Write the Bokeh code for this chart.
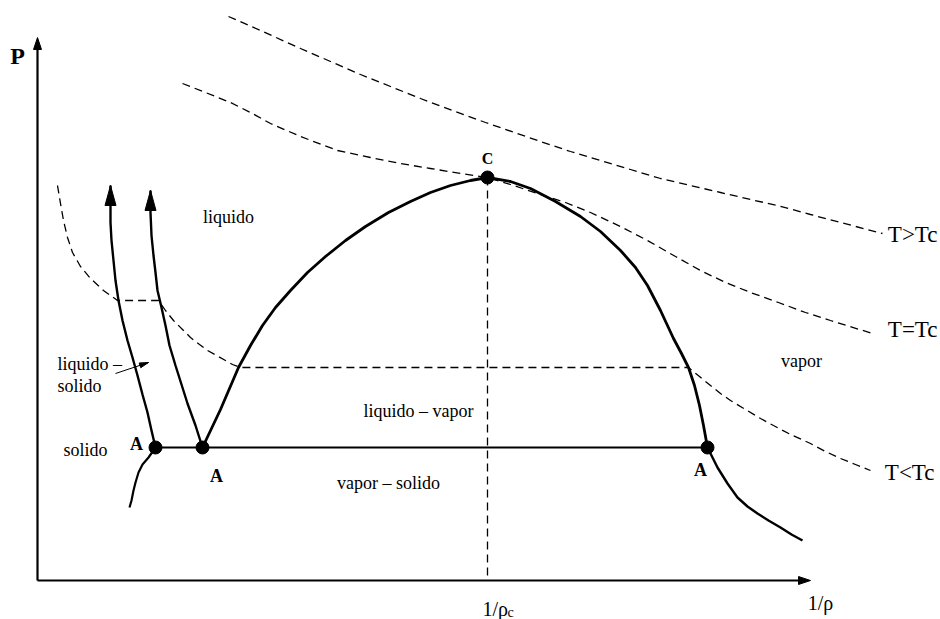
import numpy as np
from bokeh.plotting import figure
from bokeh.models import Range1d
from bokeh.core.properties import value
from bokeh.embed import file_html
from bokeh.resources import INLINE

# Schematic P - 1/rho phase diagram (arbitrary units: v = 1/rho, P = pressure)

# liquid-vapour coexistence dome, from the left triple point A over C to the right triple point A
dome_v = [165, 174, 183, 192, 201, 213, 225, 238, 253, 270, 288, 308, 328, 351, 373, 393, 413, 433, 450,
          473, 493, 518, 543, 563, 583, 598, 610, 623, 636, 644, 651, 657, 662, 666, 670]
dome_p = [133, 152, 171, 192, 213, 235, 255, 273, 290, 308, 324, 340, 354, 368, 379, 388, 395, 400, 403,
          399, 392, 379, 364, 349, 330, 313, 295, 270, 242, 227, 213, 195, 175, 155, 133]

# vapour branch below the triple line
vap_v = [670, 680, 690, 700, 710, 720, 731, 743, 754, 765]
vap_p = [133, 113, 97, 83, 74, 67, 60, 53, 46, 40]

# sublimation curve
sub_v = [118, 111, 105, 101, 98, 96, 94, 92]
sub_p = [133, 123, 116, 108, 98, 90, 80, 73]

# melting curves (solid side and liquid side)
melt1_v = [118, 114, 110, 105, 100, 95, 90, 85, 81, 78, 76, 74, 73, 73, 73]
melt1_p = [133, 150, 168, 186, 205, 223, 240, 260, 280, 300, 320, 340, 358, 375, 395]
melt2_v = [165, 158, 150, 144, 138, 132, 128, 124, 120, 118, 116, 114, 113, 113]
melt2_p = [133, 155, 177, 196, 215, 235, 255, 273, 290, 308, 325, 345, 368, 390]

# isotherms
thi_v = [191, 223, 263, 293, 323, 353, 383, 415, 448, 500, 533, 563, 593, 623, 653, 683, 713, 740, 773, 803, 845]
thi_p = [564, 550, 532, 519, 506, 494, 482, 470, 458, 440, 429, 420, 411, 402, 395, 388, 381, 375, 366, 358, 347]

tc_v = [145, 168, 193, 213, 233, 263, 300, 333, 363, 393, 423, 450, 473, 500, 528, 553, 583, 610, 638, 663,
        688, 713, 741, 768, 793, 835]
tc_p = [497, 488, 478, 468, 457, 444, 430, 423, 417, 412, 407, 403, 396, 387, 378, 368, 354, 340, 324, 310,
        298, 288, 278, 268, 260, 247]

tlo_v = [20, 23, 26, 30, 35, 43, 53, 66, 80, 121, 128, 136, 145, 153, 162, 170, 179, 188, 195, 203,
         651, 662, 673, 683, 693, 708, 723, 736, 753, 773, 788, 803, 818, 833]
tlo_p = [395, 377, 360, 343, 328, 314, 302, 290, 280, 280, 270, 260, 251, 243, 236, 230, 225, 220, 216, 213,
         213, 204, 195, 187, 180, 171, 162, 155, 146, 137, 129, 122, 116, 110]

# triple line and critical point
triple_v = [118, 165, 670]
triple_p = [133, 133, 133]
crit_v, crit_p = 450, 403

# axes extent
v_max, p_max = 773, 543

SERIF = value("Liberation Serif")

p = figure(width=940, height=619, x_range=Range1d(-37, 903), y_range=Range1d(-39, 580),
           output_backend="svg", toolbar_location=None, x_axis_type=None, y_axis_type=None,
           min_border=0, outline_line_color=None)
p.grid.visible = False
p.background_fill_color = "white"
p.border_fill_color = "white"


def head(tip_v, tip_p, from_v, from_p, length, width):
    d = np.array([tip_v - from_v, tip_p - from_p], dtype=float)
    u = d / np.hypot(*d)
    n = np.array([-u[1], u[0]])
    base = np.array([tip_v, tip_p]) - length * u
    a = base + n * width / 2
    b = base - n * width / 2
    return [tip_v, a[0], b[0]], [tip_p, a[1], b[1]]


dash = "8 5"
# isotherms
p.line(thi_v, thi_p, line_color="black", line_width=1.3, line_dash=dash)
p.line(tc_v, tc_p, line_color="black", line_width=1.3, line_dash=dash)
p.line(tlo_v, tlo_p, line_color="black", line_width=1.3, line_dash=dash)
# critical volume
p.line([crit_v, crit_v], [crit_p, 5], line_color="black", line_width=1.3, line_dash=dash)

# coexistence curves
p.line(dome_v, dome_p, line_color="black", line_width=2.8)
p.line(vap_v, vap_p, line_color="black", line_width=2.4)
p.line(sub_v, sub_p, line_color="black", line_width=2.2)
p.line(melt1_v, melt1_p, line_color="black", line_width=2.4)
p.line(melt2_v, melt2_p, line_color="black", line_width=2.4)
p.line(triple_v, triple_p, line_color="black", line_width=2.2)

# heads on the melting curves
heads_x, heads_y = [], []
for mv, mp in ((melt1_v, melt1_p), (melt2_v, melt2_p)):
    hx, hy = head(mv[-1], mp[-1], mv[-2], mp[-2], 20, 11)
    heads_x.append(hx)
    heads_y.append(hy)
p.patches(heads_x, heads_y, fill_color="black", line_color="black", line_width=1)

# axes with arrows
p.line([0, 0], [0, p_max - 8], line_color="black", line_width=2.2)
p.line([0, v_max - 8], [0, 0], line_color="black", line_width=2.2)
ax_x, ax_y = [], []
for hx, hy in (head(0, p_max, 0, 0, 12, 8), head(v_max, 0, 0, 0, 12, 8)):
    ax_x.append(hx)
    ax_y.append(hy)
p.patches(ax_x, ax_y, fill_color="black", line_color="black", line_width=1)

# pointer for the solid-liquid label
ptr_v = [78, 111]
ptr_p = [207, 218]
p.line(ptr_v, ptr_p, line_color="black", line_width=1)
hx, hy = head(ptr_v[1], ptr_p[1], ptr_v[0], ptr_p[0], 9, 5)
p.patch(hx, hy, fill_color="black", line_color="black")

# triple points and critical point
p.scatter(triple_v + [crit_v], triple_p + [crit_p], size=13, marker="circle",
          fill_color="black", line_color="black")

# labels
def label(x, y, t, size="18px", style="normal", align="center"):
    p.text(x=[x], y=[y], text=[t], text_font=SERIF, text_font_size=size, text_font_style=style,
           text_align=align, text_baseline="middle", text_color="black")


label(-20, 525, "P", "24px", "bold")
label(783, -22, "1/ρ", "20px")
label(445, -28, "1/ρ", "20px", align="left")
label(470, -32, "c", "14px", align="left")
label(191, 364, "liquido")
label(20, 217, "liquido –", align="left")
label(20, 195, "solido", align="left")
label(48, 131, "solido")
label(99, 137, "A", "18px", "bold")
label(179, 105, "A", "18px", "bold")
label(663, 111, "A", "18px", "bold")
label(crit_v, 422, "C", "16px", "bold")
label(381, 170, "liquido – vapor")
label(351, 98, "vapor – solido")
label(764, 220, "vapor")
label(900, 346, "T>Tc", "23px", align="right")
label(900, 251, "T=Tc", "23px", align="right")
label(897, 108, "T<Tc", "23px", align="right")

open("out.html", "w").write(file_html(p, INLINE))
